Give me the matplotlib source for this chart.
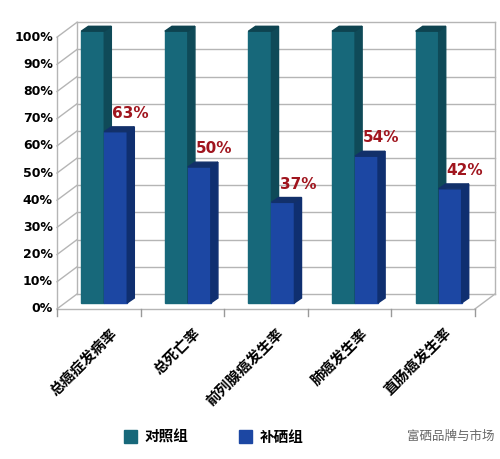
import matplotlib.pyplot as plt
from matplotlib.patches import Polygon

plt.rcParams['font.family'] = ['Noto Sans CJK SC', 'DejaVu Sans']

categories = ['总癌症发病率', '总死亡率', '前列腺癌发生率', '肺癌发生率', '直肠癌发生率']
control = [100, 100, 100, 100, 100]
selenium = [63, 50, 37, 54, 42]
labels = ['63%', '50%', '37%', '54%', '42%']

teal, teal_side, teal_top = '#17687A', '#0F4A58', '#0E4350'
blue, blue_side, blue_top = '#1C47A3', '#0F2F70', '#12306A'

fig = plt.figure(figsize=(5, 4.59), dpi=100)
ax = fig.add_axes([0.114, 0.327, 0.836, 0.592])
ax.set_xlim(0, 5)
ax.set_ylim(0, 100)
ax.axis('off')

# depth of the wall and of the bars (data units)
wdx, wdy = 0.24, 5.5
bdx, bdy = 0.085, 1.8
ox, oy = 0.0, 2.2   # bar front plane offset from front axis

# walls and grid
for v in range(0, 101, 10):
    ax.plot([wdx, 5 + wdx], [v + wdy, v + wdy], color='#b5b5b5', lw=1, clip_on=False, zorder=1)
    ax.plot([0, wdx], [v, v + wdy], color='#b5b5b5', lw=1, clip_on=False, zorder=1)
    ax.text(-0.05, v, f'{v}%', ha='right', va='center', fontsize=9, fontweight='bold',
            family='DejaVu Sans', clip_on=False)
ax.plot([wdx, wdx], [wdy, 100 + wdy], color='#b5b5b5', lw=1, clip_on=False, zorder=1)
ax.plot([0, 0], [0, 100], color='#b5b5b5', lw=1, clip_on=False, zorder=1)
ax.plot([5 + wdx, 5 + wdx], [wdy, 100 + wdy], color='#b5b5b5', lw=1, clip_on=False, zorder=1)
ax.plot([0, 5], [0, 0], color='#b5b5b5', lw=1, clip_on=False, zorder=1)
ax.plot([5, 5 + wdx], [0, wdy], color='#b5b5b5', lw=1, clip_on=False, zorder=1)
for i in range(6):
    ax.plot([i, i], [0, -2.5], color='#999999', lw=1, clip_on=False)


def bar3d(x0, w, h, front, side, top, z):
    x0 += ox
    y0 = oy
    ax.add_patch(Polygon([(x0, y0), (x0 + w, y0), (x0 + w, y0 + h), (x0, y0 + h)],
                         closed=True, color=front, clip_on=False, zorder=z))
    ax.add_patch(Polygon([(x0 + w, y0), (x0 + w + bdx, y0 + bdy), (x0 + w + bdx, y0 + h + bdy), (x0 + w, y0 + h)],
                         closed=True, color=side, clip_on=False, zorder=z))
    ax.add_patch(Polygon([(x0, y0 + h), (x0 + w, y0 + h), (x0 + w + bdx, y0 + h + bdy), (x0 + bdx, y0 + h + bdy)],
                         closed=True, color=top, clip_on=False, zorder=z))


for i, (c, s, lab) in enumerate(zip(control, selenium, labels)):
    bar3d(i + 0.29, 0.275, c, teal, teal_side, teal_top, 3)
    bar3d(i + 0.565, 0.275, s, blue, blue_side, blue_top, 4)
    ax.text(i + 0.88, s + oy + 4, lab, ha='center', va='bottom', color='#A0151E',
            fontsize=11, fontweight='bold', family='DejaVu Sans', zorder=6)
    ax.text(i + 0.62, -6, categories[i], ha='right', va='top', rotation=45,
            rotation_mode='anchor', fontsize=10.5, fontweight='bold', clip_on=False)

# legend
fig.patches.append(Polygon([(0.248, 0.035), (0.274, 0.035), (0.274, 0.063), (0.248, 0.063)],
                           closed=True, color=teal, transform=fig.transFigure))
fig.text(0.29, 0.049, '对照组', ha='left', va='center', fontsize=10.5, fontweight='bold')
fig.patches.append(Polygon([(0.478, 0.035), (0.504, 0.035), (0.504, 0.063), (0.478, 0.063)],
                           closed=True, color=blue, transform=fig.transFigure))
fig.text(0.52, 0.049, '补硒组', ha='left', va='center', fontsize=10.5, fontweight='bold')
fig.text(0.99, 0.05, '富硒品牌与市场', ha='right', va='center', fontsize=9, color='#666666')

fig.savefig('out.png', dpi=100)
